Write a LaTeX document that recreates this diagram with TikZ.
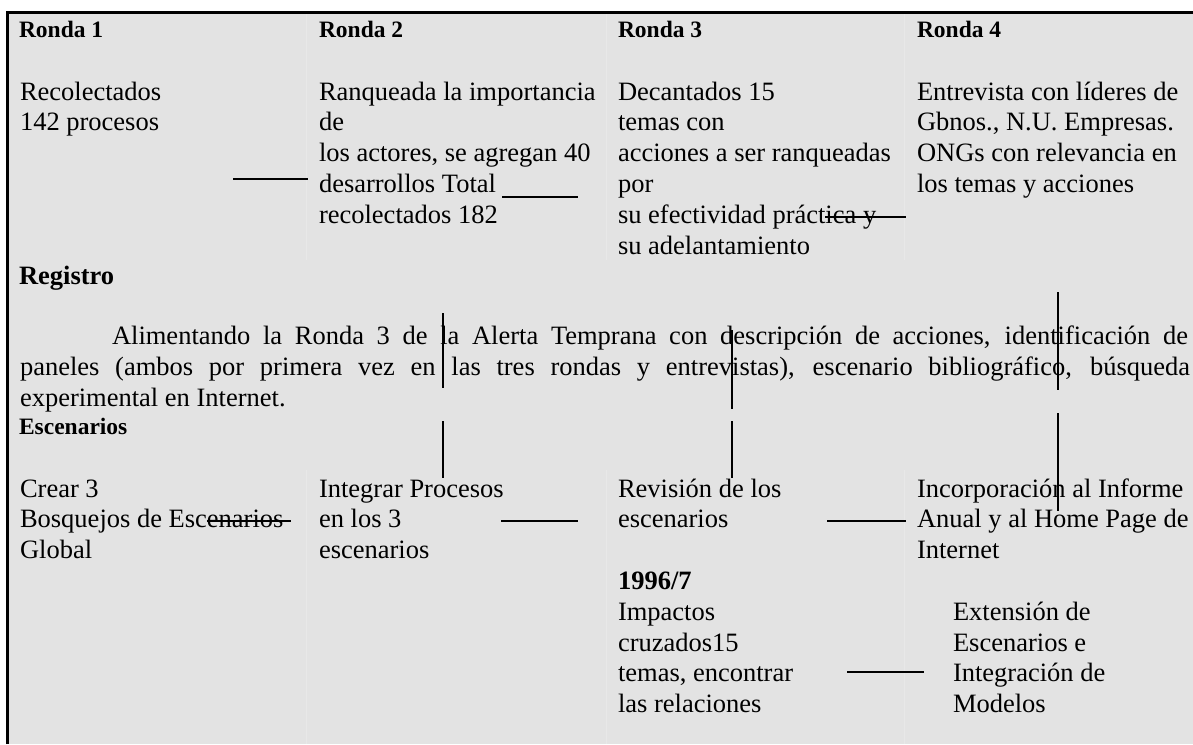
\documentclass[tikz,border=0pt]{standalone}
\usepackage{fontspec}
\setmainfont{Liberation Serif}
\definecolor{bg}{RGB}{227,227,227}
\definecolor{gridc}{RGB}{232,232,232}
\tikzset{
  body/.style={anchor=base west, inner sep=0pt, outer sep=0pt, font=\fontsize{26.5}{30.8}\selectfont},
  hd/.style={anchor=base west, inner sep=0pt, outer sep=0pt, font=\fontsize{23.5}{27}\selectfont\bfseries},
  hdbig/.style={anchor=base west, inner sep=0pt, outer sep=0pt, font=\fontsize{26.5}{30.8}\selectfont\bfseries},
  link/.style={line width=1.8pt, draw=black},
  faint/.style={line width=0.8pt, draw=gridc},
  frame/.style={line width=3pt, draw=black}
}
\begin{document}
\begin{tikzpicture}[x=1pt,y=-1pt]
\useasboundingbox (0,0) rectangle (1193,744);
\fill[bg] (6,11) rectangle (1193,744);
\foreach \gx in {306,606,904} {
  \draw[faint] (\gx,14) -- (\gx,260);
  \draw[faint] (\gx,470) -- (\gx,744);
}
\draw[frame] (7.5,744) -- (7.5,12.5) -- (1193,12.5);

% headers
\node[hd] (r1) at (19,37) {Ronda 1};
\node[hd] (r2) at (319,37) {Ronda 2};
\node[hd] (r3) at (618,37) {Ronda 3};
\node[hd] (r4) at (917,37) {Ronda 4};

% row 1
\foreach \t [count=\i] in {Recolectados, 142 procesos}
  \node[body] (a\i) at (20,{100+(\i-1)*30.8}) {\t};
\foreach \t [count=\i] in {Ranqueada la importancia, de, {los actores, se agregan 40}, desarrollos Total, recolectados 182}
  \node[body] (b\i) at (319,{100+(\i-1)*30.8}) {\t};
\foreach \t [count=\i] in {Decantados 15, temas con, acciones a ser ranqueadas, por}
  \node[body] (c\i) at (618,{100+(\i-1)*30.8}) {\t};
\node[body] (c5) at (618,{100+4*30.8}) {su efectividad práct};
\node[body] (c5s) at (c5.base east) {ica y};
\node[body] (c6) at (618,{100+5*30.8}) {su adelantamiento};
\foreach \t [count=\i] in {Entrevista con líderes de, {Gbnos., N.U. Empresas.}, ONGs con relevancia en, los temas y acciones}
  \node[body] (d\i) at (917,{100+(\i-1)*30.8}) {\t};

% registro
\node[hdbig] (reg) at (19,284) {Registro};
\node[body] (p1) at (112,344) {\makebox[1076pt][s]{Alimentando la Ronda 3 de la Alerta Temprana con descripción de acciones, identificación de}};
\node[body] (p2) at (20,375) {\makebox[1170pt][s]{paneles (ambos por primera vez en las tres rondas y entrevistas), escenario bibliográfico, búsqueda}};
\node[body] (p3) at (20,406) {experimental en Internet.};

% escenarios
\node[hd] (esc) at (19,434) {Escenarios};
\node[body] (e1) at (20,497) {Crear 3};
\node[body] (e2) at (20,527.8) {Bosquejos de Esc};
\node[body] (e2s) at (e2.base east) {enarios};
\node[body] (e3) at (20,558.6) {Global};
\foreach \t [count=\i] in {Integrar Procesos, en los 3, escenarios}
  \node[body] (f\i) at (319,{497+(\i-1)*30.8}) {\t};
\foreach \t [count=\i] in {Revisión de los, escenarios}
  \node[body] (g\i) at (618,{497+(\i-1)*30.8}) {\t};
\foreach \t [count=\i] in {Incorporación al Informe, Anual y al Home Page de, Internet}
  \node[body] (k\i) at (917,{497+(\i-1)*30.8}) {\t};
\node[hdbig] (yr) at (618,589.4) {1996/7};
\foreach \t [count=\i] in {Impactos, cruzados15, {temas, encontrar}, las relaciones}
  \node[body] (m\i) at (618,{620.2+(\i-1)*30.8}) {\t};
\foreach \t [count=\i] in {Extensión de, Escenarios e, Integración de, Modelos}
  \node[body] (n\i) at (953,{620.2+(\i-1)*30.8}) {\t};

% connector coordinates
\coordinate (h1a) at (233,179); \coordinate (h1b) at (308,179);
\coordinate (h2a) at (502,197); \coordinate (h2b) at (578,197);
\coordinate (h3e) at (906,217);
\coordinate (h4e) at (291,521);
\coordinate (h5a) at (501,521); \coordinate (h5b) at (578,521);
\coordinate (h6a) at (827,521); \coordinate (h6b) at (906,521);
\coordinate (h7a) at (847,672); \coordinate (h7b) at (924,672);
\coordinate (v1a) at (443,313); \coordinate (v1b) at (443,388);
\coordinate (v1c) at (443,421); \coordinate (v1d) at (443,478);
\coordinate (v2a) at (732,330); \coordinate (v2b) at (732,409);
\coordinate (v2c) at (732,421); \coordinate (v2d) at (732,478);
\coordinate (v3a) at (1058,292); \coordinate (v3b) at (1058,390);
\coordinate (v3c) at (1058,413); \coordinate (v3d) at (1058,511);

\draw[link] (h1a) -- (h1b);
\draw[link] (h2a) -- (h2b);
\draw[link] (c5s.base west |- h3e) -- (h3e);
\draw[link] (e2s.base west |- h4e) -- (h4e);
\draw[link] (h5a) -- (h5b);
\draw[link] (h6a) -- (h6b);
\draw[link] (h7a) -- (h7b);
\draw[link] (v1a) -- (v1b);
\draw[link] (v1c) -- (v1d);
\draw[link] (v2a) -- (v2b);
\draw[link] (v2c) -- (v2d);
\draw[link] (v3a) -- (v3b);
\draw[link] (v3c) -- (v3d);
\end{tikzpicture}
\end{document}
